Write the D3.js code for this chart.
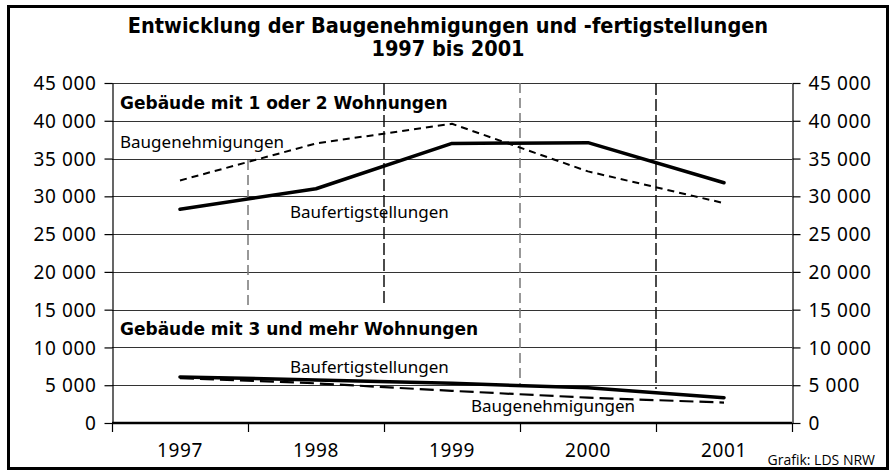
<!DOCTYPE html>
<html>
<head>
<meta charset="utf-8">
<script src="https://cdn.jsdelivr.net/npm/d3@7"></script>
<style>
  body { margin: 0; background: #fff; }
  svg { display: block; }
</style>
</head>
<body>
<svg id="chart" width="895" height="472"></svg>
<script>
// Werte
const years = ["1997", "1998", "1999", "2000", "2001"];
const yTicks = [0, 5000, 10000, 15000, 20000, 25000, 30000, 35000, 40000, 45000];

// Gebäude mit 1 oder 2 Wohnungen
const efhGenehmigungen = [32100, 37000, 39600, 33300, 29100];
const efhFertig = [28300, 31000, 37000, 37100, 31800];

// Gebäude mit 3 und mehr Wohnungen
const mfhGenehmigungen = [5950, 5250, 4250, 3350, 2700];
const mfhFertig = [6100, 5700, 5250, 4650, 3350];

// senkrechte Trennlinien zwischen den Jahren (von / bis in Wohnungen)
const dividers = [
  { after: 1, from: 34800, to: 15500, color: "#777", dash: "10,5" },
  { after: 2, from: 45000, to: 15500, color: "#111", dash: "12,4" },
  { after: 3, from: 45000, to: 5000, color: "#777", dash: "10,5" },
  { after: 4, from: 45000, to: 4500, color: "#111", dash: "12,4" }
];

const svg = d3.select("#chart");
const plotLeft = 112, plotRight = 792, plotTop = 83, plotBottom = 423;

const fmt = d3.formatLocale({ thousands: " ", grouping: [3], decimal: ",", currency: ["", ""] }).format(",");

const x = d3.scaleBand().domain(years).range([plotLeft, plotRight]);
const y = d3.scaleLinear().domain([0, 45000]).range([plotBottom, plotTop]);
const xc = d => x(d) + x.bandwidth() / 2;

// Rahmen
svg.append("rect")
  .attr("x", 8.5).attr("y", 6.5)
  .attr("width", 879).attr("height", 462)
  .attr("fill", "none").attr("stroke", "#000").attr("stroke-width", 3);

// Titel
const title = svg.append("text")
  .attr("text-anchor", "middle")
  .attr("font-family", "'DejaVu Sans Condensed', 'DejaVu Sans', sans-serif")
  .attr("font-weight", "bold")
  .attr("font-size", 21.5);
title.append("tspan").attr("x", 448).attr("y", 33).text("Entwicklung der Baugenehmigungen und -fertigstellungen");
title.append("tspan").attr("x", 448).attr("y", 56).text("1997 bis 2001");

// Gitternetz
svg.append("g").selectAll("line")
  .data(yTicks.filter(d => d > 0))
  .enter().append("line")
  .attr("x1", plotLeft).attr("x2", plotRight)
  .attr("y1", d => Math.round(y(d)) + 0.5).attr("y2", d => Math.round(y(d)) + 0.5)
  .attr("stroke", "#333").attr("stroke-width", 1);

// Trennlinien
svg.append("g").selectAll("line")
  .data(dividers)
  .enter().append("line")
  .attr("x1", d => plotLeft + d.after * x.step()).attr("x2", d => plotLeft + d.after * x.step())
  .attr("y1", d => y(d.from)).attr("y2", d => y(d.to))
  .attr("stroke", d => d.color).attr("stroke-width", 1.5)
  .attr("stroke-dasharray", d => d.dash);

// Achsen links und rechts
const axisFont = "'Noto Sans', 'Open Sans', sans-serif";
const leftAxis = svg.append("g")
  .attr("transform", `translate(${plotLeft + 0.5},0)`)
  .call(d3.axisLeft(y).tickValues(yTicks).tickSize(8).tickSizeOuter(0).tickPadding(8).tickFormat(fmt));
const rightAxis = svg.append("g")
  .attr("transform", `translate(${plotRight + 0.5},0)`)
  .call(d3.axisRight(y).tickValues(yTicks).tickSize(8).tickSizeOuter(0).tickPadding(8).tickFormat(fmt));
[leftAxis, rightAxis].forEach(g => {
  g.select(".domain").attr("stroke", "#000").attr("stroke-width", 1.2);
  g.selectAll(".tick line").attr("stroke", "#000").attr("stroke-width", 1.2);
  g.selectAll(".tick text")
    .attr("font-family", axisFont).attr("font-size", 19)
    .attr("letter-spacing", 0.6).attr("fill", "#000").attr("dy", "0.35em");
});

// x-Achse
svg.append("line")
  .attr("x1", plotLeft).attr("x2", plotRight)
  .attr("y1", y(0)).attr("y2", y(0))
  .attr("stroke", "#000").attr("stroke-width", 2.5);
svg.append("g").selectAll("line")
  .data(d3.range(years.length + 1))
  .enter().append("line")
  .attr("x1", i => plotLeft + i * x.step() + 0.5).attr("x2", i => plotLeft + i * x.step() + 0.5)
  .attr("y1", y(0)).attr("y2", y(0) + 9)
  .attr("stroke", "#000").attr("stroke-width", 1.2);
svg.append("g").selectAll("text")
  .data(years)
  .enter().append("text")
  .attr("x", d => xc(d)).attr("y", 457)
  .attr("text-anchor", "middle")
  .attr("font-family", axisFont).attr("font-size", 19).attr("letter-spacing", 0.6)
  .text(d => d);

// Linien
const line = d3.line().x((d, i) => xc(years[i])).y(d => y(d));
const series = [
  { values: efhGenehmigungen, width: 2, dash: "7,5" },
  { values: efhFertig, width: 3.5, dash: null },
  { values: mfhGenehmigungen, width: 2.2, dash: "14,6" },
  { values: mfhFertig, width: 3.5, dash: null }
];
svg.append("g").selectAll("path")
  .data(series)
  .enter().append("path")
  .attr("d", d => line(d.values))
  .attr("fill", "none").attr("stroke", "#000")
  .attr("stroke-width", d => d.width)
  .attr("stroke-dasharray", d => d.dash)
  .attr("stroke-linejoin", "round").attr("stroke-linecap", d => d.dash ? "butt" : "round");

// Beschriftungen
const labels = [
  { text: "Gebäude mit 1 oder 2 Wohnungen", x: 120, y: 109, bold: true },
  { text: "Baugenehmigungen", x: 120, y: 148, bold: false },
  { text: "Baufertigstellungen", x: 290, y: 218, bold: false },
  { text: "Gebäude mit 3 und mehr Wohnungen", x: 120, y: 335, bold: true },
  { text: "Baufertigstellungen", x: 290, y: 373, bold: false },
  { text: "Baugenehmigungen", x: 471, y: 412, bold: false }
];
svg.append("g").selectAll("text")
  .data(labels)
  .enter().append("text")
  .attr("x", d => d.x).attr("y", d => d.y)
  .attr("font-family", d => d.bold ? "'DejaVu Sans', sans-serif" : axisFont)
  .attr("font-weight", d => d.bold ? "bold" : "normal")
  .attr("font-size", 17)
  .text(d => d.text);

// Quelle
svg.append("text")
  .attr("x", 875).attr("y", 465)
  .attr("text-anchor", "end")
  .attr("font-family", "'Open Sans', sans-serif")
  .attr("font-size", 14)
  .text("Grafik: LDS NRW");
</script>
</body>
</html>
